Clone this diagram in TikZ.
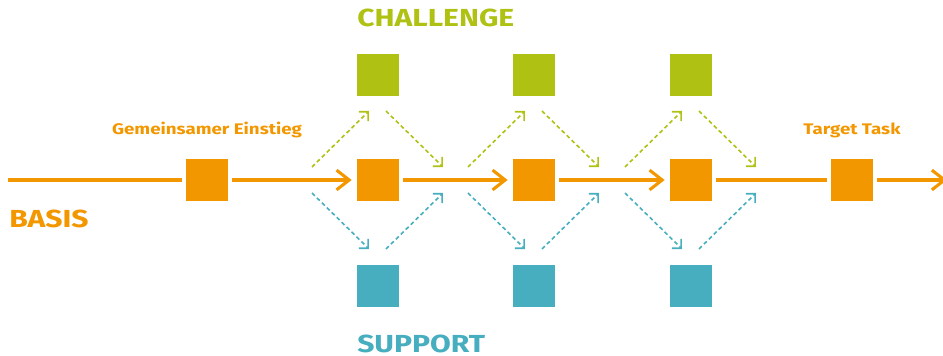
\documentclass[tikz,border=0pt]{standalone}
\usepackage{fontspec}
\setmainfont{Fira Sans}[FakeStretch=1.22]
\usepackage{tikz}
\usetikzlibrary{arrows.meta}
\usetikzlibrary{calc}

\definecolor{basis}{HTML}{F39700}
\definecolor{challenge}{HTML}{AFC214}
\definecolor{support}{HTML}{47AEBF}

\tikzset{
  box/.style={rectangle, inner sep=0pt, minimum size=31.5pt},
  basisline/.style={basis, line width=2.3pt, shorten <=3pt, shorten >=3pt},
  basisarrow/.style={basisline, shorten >=3.8pt, -{Straight Barb[angle=76:12pt]}},
  chaldash/.style={challenge, line width=1.2pt, dash pattern=on 3pt off 2.2pt, -{Straight Barb[angle=90:7pt]}},
  supdash/.style={chaldash, support},
  bigtext/.style={font=\bfseries\fontsize{18.5}{20}\selectfont, inner sep=0pt},
  smalltext/.style={font=\bfseries\fontsize{11.5}{13}\selectfont, inner sep=0pt, text=basis}
}

\begin{document}
\begin{tikzpicture}[x=0.75pt,y=-0.75pt]
\useasboundingbox (0,0) rectangle (943,356);
\coordinate (start) at (4,180);
\coordinate (end) at (947,180);
% draws squares
\node[box, fill=basis] (einstieg) at (207,180) {};
\node[box, fill=basis] (b1) at (378,180) {};
\node[box, fill=basis] (b2) at (534,180) {};
\node[box, fill=basis] (b3) at (691,180) {};
\node[box, fill=basis] (target) at (852,180) {};
\node[box, fill=challenge] (c1) at (378,75) {};
\node[box, fill=challenge] (c2) at (534,75) {};
\node[box, fill=challenge] (c3) at (691,75) {};
\node[box, fill=support] (s1) at (378,286) {};
\node[box, fill=support] (s2) at (534,286) {};
\node[box, fill=support] (s3) at (691,286) {};
% labels
\node[bigtext, text=challenge, anchor=base west] (chaltext) at (357,27) {CHALLENGE};
\node[bigtext, text=support, anchor=base west] (suptext) at (357,352) {SUPPORT};
\node[bigtext, text=basis, anchor=base west] (basistext) at (9,228) {BASIS};
\node[smalltext, anchor=base] (einstiegtext) at (207,135) {Gemeinsamer Einstieg};
\node[smalltext, anchor=base] (targettext) at (852,135) {Target Task};
% draws main line
\draw[basisline] (start) -- (einstieg);
\draw[basisarrow] (einstieg) -- (b1);
\draw[basisarrow] (b1) -- (b2);
\draw[basisarrow] (b2) -- (b3);
\draw[basisline] (b3) -- (target);
\draw[basisarrow, shorten >=0pt] (target) -- (end);
% draws dashed arrows
\foreach \i in {1,2,3}{
  \coordinate (ca\i) at ($(b\i)+(-66,-13)$);
  \coordinate (cb\i) at ($(b\i)+(-9,-69)$);
  \coordinate (cc\i) at ($(b\i)+(8,-69)$);
  \coordinate (cd\i) at ($(b\i)+(65,-13)$);
  \coordinate (sa\i) at ($(b\i)+(-66,13)$);
  \coordinate (sb\i) at ($(b\i)+(-9,69)$);
  \coordinate (sc\i) at ($(b\i)+(8,69)$);
  \coordinate (sd\i) at ($(b\i)+(65,13)$);
  \draw[chaldash] (ca\i) -- (cb\i);
  \draw[chaldash] (cc\i) -- (cd\i);
  \draw[supdash] (sa\i) -- (sb\i);
  \draw[supdash] (sc\i) -- (sd\i);
}
\end{tikzpicture}
\end{document}
